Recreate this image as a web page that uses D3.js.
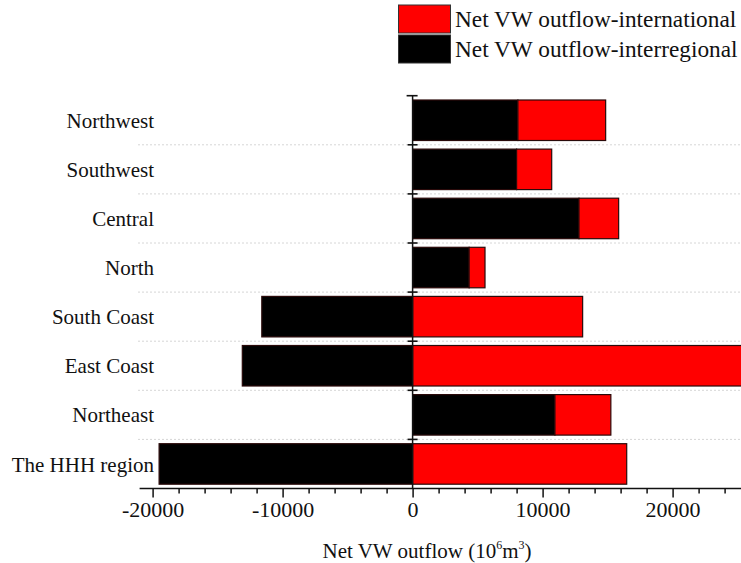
<!DOCTYPE html>
<html>
<head>
<meta charset="utf-8">
<script src="https://cdn.jsdelivr.net/npm/d3@7"></script>
<style>
  html, body { margin: 0; padding: 0; background: #fff; }
  svg { display: block; }
  text { font-family: "Liberation Serif", "Times New Roman", serif; fill: #111; }
</style>
</head>
<body>
<svg id="chart" width="741" height="563"></svg>
<script>
const categories = ["Northwest", "Southwest", "Central", "North", "South Coast", "East Coast", "Northeast", "The HHH region"];
const interregional = [8100, 8000, 12800, 4350, -11600, -13100, 10950, -19500];
const international = [6750, 2700, 3050, 1220, 13080, 26000, 4300, 16470];
const xTickValues = d3.range(-20000, 26001, 2000);
const xLabelValues = [-20000, -10000, 0, 10000, 20000];
const seriesNames = ["Net VW outflow-international", "Net VW outflow-interregional"];
const seriesColors = ["#ff0000", "#000000"];
const axisTitle = "Net VW outflow (10";

const svg = d3.select("#chart");
const W = 741, H = 563;

const x = d3.scaleLinear().domain([-21000, 26000]).range([139.6, 750.6]);
const y = d3.scaleBand().domain(categories).range([95.7, 488.5]).paddingInner(0.175).paddingOuter(0.0875);
const step = y.step();
const y0 = y.range()[0];

// gridlines (dotted) between categories
const gridG = svg.append("g");
for (let i = 1; i < categories.length; i++) {
  const gy = y0 + i * step;
  gridG.append("line")
    .attr("x1", 138).attr("x2", W)
    .attr("y1", gy).attr("y2", gy)
    .attr("stroke", "#d6d6d6").attr("stroke-width", 1)
    .attr("stroke-dasharray", "2,2");
}

// build segments
const segs = [];
categories.forEach((c, i) => {
  const ir = interregional[i], it = international[i];
  segs.push({cat: c, x0: Math.min(0, ir), x1: Math.max(0, ir), color: seriesColors[1]});
  const base = ir > 0 ? ir : 0;
  segs.push({cat: c, x0: base, x1: base + it, color: seriesColors[0]});
});

svg.append("g").selectAll("rect").data(segs).join("rect")
  .attr("x", d => x(d.x0))
  .attr("width", d => x(d.x1) - x(d.x0))
  .attr("y", d => y(d.cat))
  .attr("height", y.bandwidth())
  .attr("fill", d => d.color)
  .attr("stroke", "#2a0a0a")
  .attr("stroke-width", 1.2);

// x axis
const xAxis = d3.axisBottom(x)
  .tickValues(xTickValues)
  .tickSizeOuter(0)
  .tickSize(5)
  .tickFormat(d => xLabelValues.includes(d) ? String(d) : "");
const gx = svg.append("g").attr("transform", `translate(0,${y.range()[1]})`).call(xAxis);
gx.select(".domain").attr("stroke", "#111").attr("stroke-width", 1.6).attr("d", `M${x(-21000)},0H${W}`);
gx.selectAll(".tick line").attr("stroke", "#111").attr("stroke-width", 1.5)
  .attr("y2", d => xLabelValues.includes(d) ? 9 : 5);
gx.selectAll(".tick text")
  .attr("y", 0).attr("dy", 0)
  .attr("transform", "translate(0,28)")
  .style("font-size", "22px")
  .style("font-family", "'Liberation Serif', serif")
  .attr("fill", "#111");

// y axis (vertical line at 0)
svg.append("line")
  .attr("x1", x(0)).attr("x2", x(0))
  .attr("y1", y0).attr("y2", y.range()[1])
  .attr("stroke", "#111").attr("stroke-width", 1.5);
for (let i = 0; i < categories.length; i++) {
  const ty = y0 + i * step;
  svg.append("line")
    .attr("x1", x(0) - (i === 0 ? 6 : 5)).attr("x2", x(0) + 5)
    .attr("y1", ty).attr("y2", ty)
    .attr("stroke", "#111").attr("stroke-width", 1.6);
}

// category labels
svg.append("g").selectAll("text").data(categories).join("text")
  .attr("x", 154)
  .attr("y", d => y(d) + y.bandwidth() / 2)
  .attr("dy", "0.36em")
  .attr("text-anchor", "end")
  .style("font-size", "21px")
  .text(d => d);

// axis title
const title = svg.append("text")
  .attr("x", 427).attr("y", 558)
  .attr("text-anchor", "middle")
  .style("font-size", "21px");
title.append("tspan").text(axisTitle);
title.append("tspan").attr("dy", -9).style("font-size", "12px").text("6");
title.append("tspan").attr("dy", 9).text("m");
title.append("tspan").attr("dy", -9).style("font-size", "12px").text("3");
title.append("tspan").attr("dy", 9).text(")");

// legend
const leg = svg.append("g");
seriesNames.forEach((n, i) => {
  leg.append("rect")
    .attr("x", 398.5).attr("y", 5 + i * 30)
    .attr("width", 52).attr("height", 28)
    .attr("fill", seriesColors[i])
    .attr("stroke", "#333").attr("stroke-width", 1);
  leg.append("text")
    .attr("x", 455).attr("y", 27 + i * 30)
    .style("font-size", "23.3px")
    .text(n);
});
</script>
</body>
</html>
